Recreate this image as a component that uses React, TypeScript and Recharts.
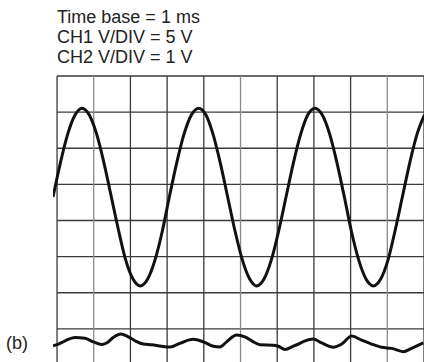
import { LineChart, Line, XAxis, YAxis, ReferenceLine } from 'recharts';

// screen divisions (10 across, 8 down)
const gridX = [0, 1, 2, 3, 4, 5, 6, 7, 8, 9, 10];
const gridY = [4, 3, 2, 1, 0, -1, -2, -3, -4];
const lightX = [1, 5, 9];

// CH1 trace in divisions
const ch1X = [
    -0.11, 0.09, 0.29, 0.49, 0.68, 0.88, 1.08, 1.28, 1.48, 1.68, 1.87, 2.07, 2.27,
    2.47, 2.67, 2.87, 3.06, 3.26, 3.46, 3.66, 3.86, 4.06, 4.25, 4.45, 4.65, 4.85,
    5.05, 5.25, 5.44, 5.64, 5.84, 6.04, 6.24, 6.44, 6.64, 6.83, 7.03, 7.23, 7.43,
    7.63, 7.83, 8.02, 8.22, 8.42, 8.62, 8.82, 9.02, 9.21, 9.41, 9.61, 9.81, 10.01,
];
const ch1Y = [
    0.65, 1.59, 2.39, 2.92, 3.11, 2.92, 2.39, 1.59, 0.65, -0.29, -1.09, -1.62, -1.81,
    -1.62, -1.09, -0.29, 0.65, 1.59, 2.39, 2.92, 3.11, 2.92, 2.39, 1.59, 0.65, -0.29,
    -1.09, -1.62, -1.81, -1.62, -1.09, -0.29, 0.65, 1.59, 2.39, 2.92, 3.11, 2.92, 2.39,
    1.59, 0.65, -0.29, -1.09, -1.62, -1.81, -1.62, -1.09, -0.29, 0.65, 1.59, 2.39, 2.92,
];

// CH2 trace
const ch2X = [
    -0.11, 0.04, 0.22, 0.49, 0.76, 0.99, 1.22, 1.35, 1.53, 1.74, 1.94, 2.13, 2.35, 2.58,
    2.85, 3.08, 3.35, 3.71, 3.99, 4.26, 4.44, 4.62, 4.89, 5.12, 5.35, 5.53, 5.89, 6.03,
    6.21, 6.44, 6.62, 6.76, 6.98, 7.21, 7.53, 7.76, 8.03, 8.3, 8.57, 8.85, 9.12, 9.44,
    9.66, 9.98,
];
const ch2Y = [
    -3.47, -3.42, -3.33, -3.24, -3.26, -3.36, -3.43, -3.39, -3.24, -3.14, -3.22, -3.33,
    -3.42, -3.44, -3.48, -3.5, -3.4, -3.29, -3.36, -3.48, -3.5, -3.36, -3.17, -3.22,
    -3.36, -3.44, -3.45, -3.48, -3.57, -3.48, -3.4, -3.33, -3.28, -3.39, -3.51, -3.42,
    -3.2, -3.31, -3.42, -3.51, -3.54, -3.63, -3.54, -3.39,
];

const titleLines = ['Time base = 1 ms', 'CH1 V/DIV = 5 V', 'CH2 V/DIV = 1 V'];
const panelLabel = '(b)';

const ch1 = ch1X.map((x, i) => ({ x, y: ch1Y[i] }));
const ch2 = ch2X.map((x, i) => ({ x, y: ch2Y[i] }));

const font = '"Liberation Sans", Arial, sans-serif';

const App = () => {
    return (
        <div style={{ position: 'absolute', left: 0, top: 0, width: 424, height: 362, overflow: 'hidden', background: '#fff' }}>
            <LineChart width={434} height={375} margin={{ top: 76, right: 10, bottom: 10, left: 53 }}>
                <XAxis type="number" dataKey="x" domain={[-0.11, 10]} allowDataOverflow hide />
                <YAxis type="number" dataKey="y" domain={[-4, 4]} allowDataOverflow hide />
                {gridY.map(v => (
                    <ReferenceLine
                        key={'h' + v}
                        segment={[{ x: 0, y: v }, { x: 10, y: v }]}
                        stroke="#3a3a3a"
                        strokeWidth={1.3}
                        ifOverflow="visible"
                    />
                ))}
                {gridX.map(v => (
                    <ReferenceLine
                        key={'v' + v}
                        x={v}
                        stroke={lightX.includes(v) ? '#8a8a8a' : '#3a3a3a'}
                        strokeWidth={1.3}
                        ifOverflow="visible"
                    />
                ))}
                <Line data={ch1} dataKey="y" type="monotone" stroke="#111" strokeWidth={3} dot={false} isAnimationActive={false} />
                <Line data={ch2} dataKey="y" type="monotone" stroke="#111" strokeWidth={3} dot={false} isAnimationActive={false} />
            </LineChart>
            <svg width={424} height={362} style={{ position: 'absolute', left: 0, top: 0, pointerEvents: 'none' }}>
                {titleLines.map((t, i) => (
                    <text key={t} x={57} y={23 + i * 19.8} fontFamily={font} fontSize={18} fill="#222">
                        {t}
                    </text>
                ))}
                <text x={6} y={349} fontFamily={font} fontSize={18} fill="#222">
                    {panelLabel}
                </text>
            </svg>
        </div>
    );
};

export default App;
